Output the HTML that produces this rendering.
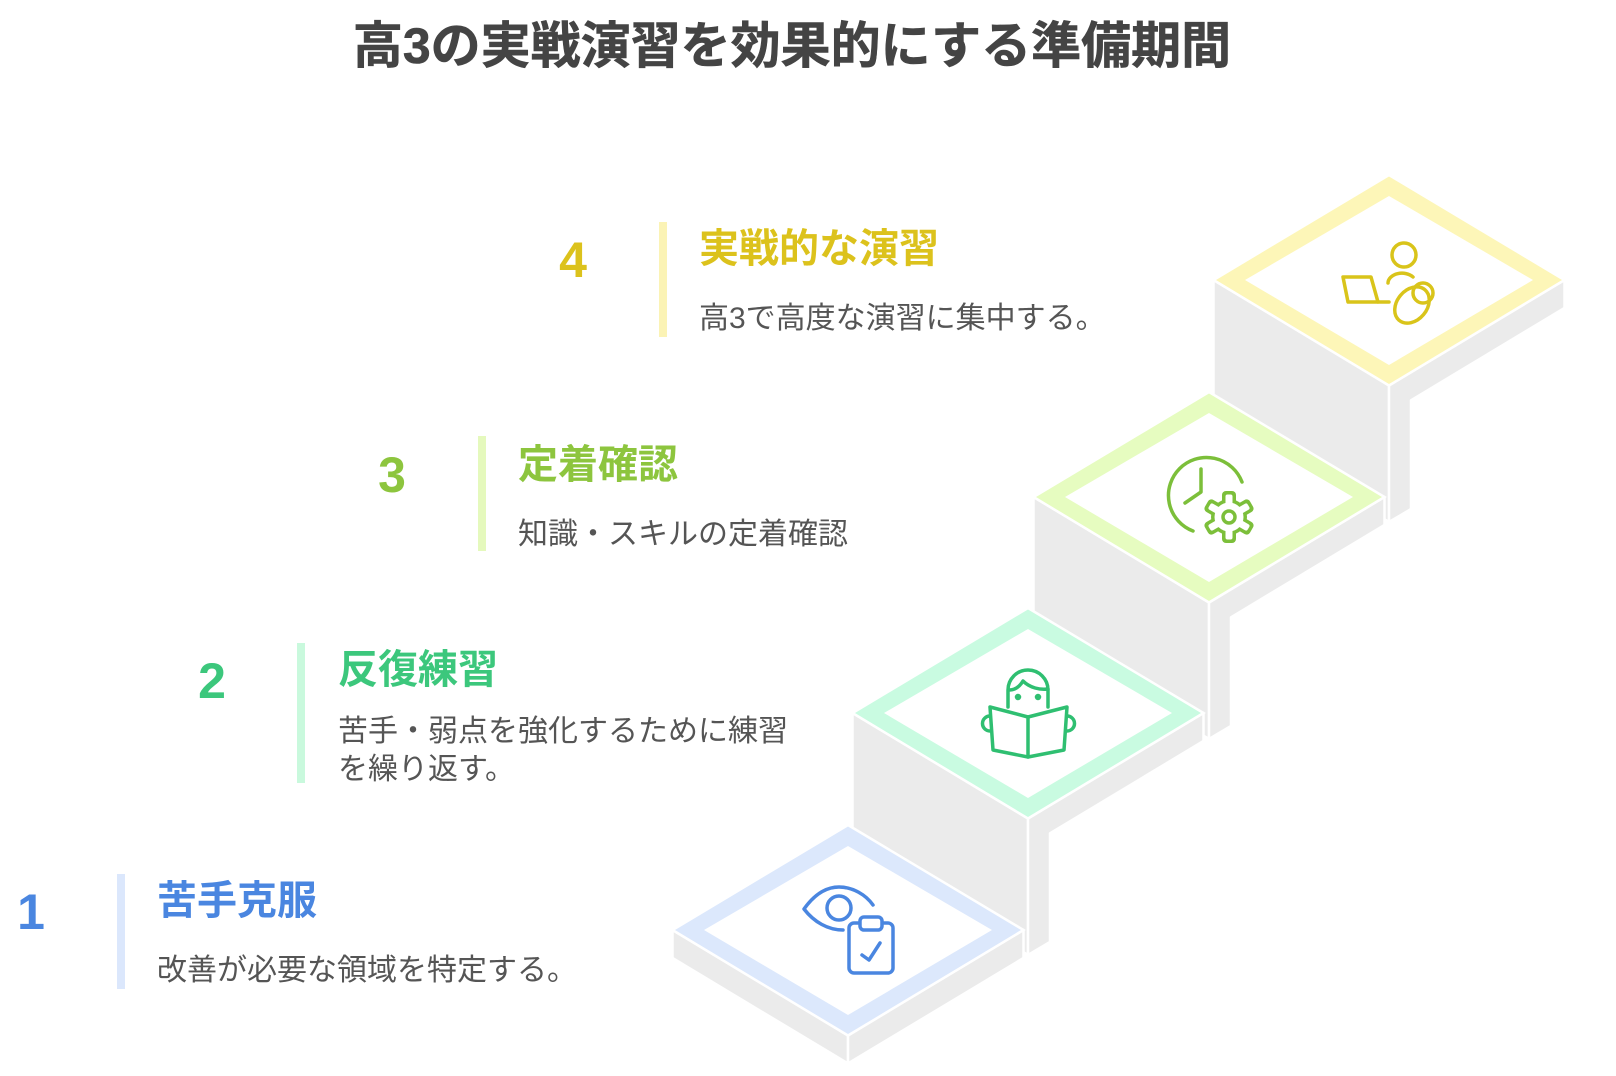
<!DOCTYPE html>
<html><head><meta charset="utf-8"><style>
html,body{margin:0;padding:0;background:#fff;}
svg{display:block;}
text{font-family:"Liberation Sans","Noto Sans CJK JP",sans-serif;}
</style></head><body>
<svg width="1616" height="1076" viewBox="0 0 1616 1076" xmlns="http://www.w3.org/2000/svg">
<text x="792" y="63" text-anchor="middle" font-size="50" font-weight="bold" fill="#444" stroke="#444" stroke-width="0.6">高3の実戦演習を効果的にする準備期間</text>

<!-- step 4 block cx=1389 cy=280 -->
<g stroke="#fff" stroke-width="2.5" stroke-linejoin="round" fill="#ebebeb">
<polygon points="1213.5,280 1389,385.5 1389,522 1213.5,416.5"/>
<polygon points="1389,385.5 1564.5,280 1564.5,308 1411,400.3 1411,509 1389,522"/>
</g>
<polygon points="1389,175 1564.5,280 1389,385.5 1213.5,280" fill="#fdf6b8" stroke="#fff" stroke-width="2.5"/>
<polygon points="1389,196 1533,280 1389,365 1245,280" fill="#fff"/>

<!-- step 3 block cx=1209 cy=497 -->
<g stroke="#fff" stroke-width="2.5" stroke-linejoin="round" fill="#ebebeb">
<polygon points="1033.5,497 1209,602.5 1209,739 1033.5,633.5"/>
<polygon points="1209,602.5 1384.5,497 1384.5,525 1231,617.3 1231,726 1209,739"/>
</g>
<polygon points="1209,392 1384.5,497 1209,602.5 1033.5,497" fill="#e6fcc0" stroke="#fff" stroke-width="2.5"/>
<polygon points="1209,413 1353,497 1209,582 1065,497" fill="#fff"/>

<!-- step 2 block cx=1028 cy=713 -->
<g stroke="#fff" stroke-width="2.5" stroke-linejoin="round" fill="#ebebeb">
<polygon points="852.5,713 1028,818.5 1028,955 852.5,849.5"/>
<polygon points="1028,818.5 1203.5,713 1203.5,741 1050,833.3 1050,942 1028,955"/>
</g>
<polygon points="1028,608 1203.5,713 1028,818.5 852.5,713" fill="#c9fbe1" stroke="#fff" stroke-width="2.5"/>
<polygon points="1028,629 1172,713 1028,798 884,713" fill="#fff"/>

<!-- step 1 block cx=848 cy=930 -->
<g stroke="#fff" stroke-width="2.5" stroke-linejoin="round" fill="#ebebeb">
<polygon points="672.5,930 848,1035.5 848,1063.5 672.5,958"/>
<polygon points="848,1035.5 1023.5,930 1023.5,958 848,1063.5"/>
</g>
<polygon points="848,825 1023.5,930 848,1035.5 672.5,930" fill="#dce8fc" stroke="#fff" stroke-width="2.5"/>
<polygon points="848,846 992,930 848,1015 704,930" fill="#fff"/>

<!-- icon 1 eye + clipboard -->
<g fill="none" stroke="#4a86e0" stroke-width="3.5" stroke-linecap="round" stroke-linejoin="round">
<path d="M843,930 C828,930 814,922 804,909 C814,895 826,887 839,887 C853,887 866,895 873,905"/>
<circle cx="839" cy="908" r="12"/>
<rect x="849" y="923" width="44" height="50" rx="5"/>
<rect x="860" y="917" width="22" height="13" rx="4" fill="#fff"/>
<path d="M862,955 L869,960 L880,943"/>
</g>

<!-- icon 2 reader -->
<g fill="none" stroke="#2fbf71" stroke-width="3.5" stroke-linecap="round" stroke-linejoin="round">
<path d="M1008,707 L1008,690 A20,20 0 0 1 1048,690 L1048,707"/>
<path d="M1009,690 C1016,690 1020,686 1023,681 C1030,688 1040,690 1048,689"/>
<circle cx="1018" cy="697" r="1.5" fill="#2fbf71"/>
<circle cx="1038" cy="697" r="1.5" fill="#2fbf71"/>
<path d="M990,707 L1028,717 L1067,707 L1064,750 L1028,757 L993,750 Z"/>
<path d="M1028,717 L1028,757"/>
<path d="M990,716 A7,7 0 0 0 990,731"/>
<path d="M1067,716 A7,7 0 0 1 1067,731"/>
</g>

<!-- icon 3 clock + gear -->
<g fill="none" stroke="#7cbf3a" stroke-width="3.5" stroke-linecap="round" stroke-linejoin="round">
<path d="M1193,531 A38,38 0 1 1 1242,482"/>
<path d="M1201,469 L1201,492 L1185,503"/>
</g>
<g transform="translate(1229,517)">
<g fill="#7cbf3a">
<circle r="18"/>
<rect x="-7" y="-26" width="14" height="52" rx="4"/>
<rect x="-7" y="-26" width="14" height="52" rx="4" transform="rotate(60)"/>
<rect x="-7" y="-26" width="14" height="52" rx="4" transform="rotate(120)"/>
</g>
<g fill="#fff">
<circle r="14.5"/>
<rect x="-3.5" y="-22.5" width="7" height="45" rx="2" />
<rect x="-3.5" y="-22.5" width="7" height="45" rx="2" transform="rotate(60)"/>
<rect x="-3.5" y="-22.5" width="7" height="45" rx="2" transform="rotate(120)"/>
</g>
<circle r="6" fill="none" stroke="#7cbf3a" stroke-width="3.5"/>
</g>

<!-- icon 4 person laptop baby -->
<g fill="none" stroke="#d9c41a" stroke-width="3.5" stroke-linecap="round" stroke-linejoin="round">
<circle cx="1404" cy="255" r="12"/>
<path d="M1388,283 A14,10 0 0 1 1413,277"/>
<path d="M1343,277 L1371,277 L1378,302 L1348,302 Z"/>
<path d="M1378,302 L1389,302"/>
<ellipse cx="1412" cy="305" rx="15" ry="20" transform="rotate(40 1412 305)"/>
<circle cx="1423" cy="293" r="10"/>
</g>

<!-- texts -->
<g transform="translate(0,-6)">
<rect x="117" y="880" width="8" height="115" fill="#dbe7fc"/>
<text x="31" y="935" text-anchor="middle" font-size="50" font-weight="bold" fill="#4a86e0">1</text>
<text x="157" y="920" font-size="40" font-weight="bold" fill="#4a86e0">苦手克服</text>
<text x="157" y="986" font-size="30" fill="#555">改善が必要な領域を特定する。</text>

<rect x="297" y="649" width="8" height="140" fill="#c9f9dd"/>
<text x="212" y="704" text-anchor="middle" font-size="50" font-weight="bold" fill="#3cc77c">2</text>
<text x="338" y="689" font-size="40" font-weight="bold" fill="#3cc77c">反復練習</text>
<text x="338" y="747" font-size="30" fill="#555">苦手・弱点を強化するために練習</text>
<text x="338" y="785" font-size="30" fill="#555">を繰り返す。</text>

<rect x="478" y="442" width="8" height="115" fill="#e5f9bd"/>
<text x="392" y="498" text-anchor="middle" font-size="50" font-weight="bold" fill="#8dc53e">3</text>
<text x="518" y="484" font-size="40" font-weight="bold" fill="#8dc53e">定着確認</text>
<text x="518" y="550" font-size="30" fill="#555">知識・スキルの定着確認</text>

<rect x="659" y="228" width="8" height="115" fill="#fbf3b5"/>
<text x="573" y="283" text-anchor="middle" font-size="50" font-weight="bold" fill="#dcc21c">4</text>
<text x="699" y="268" font-size="40" font-weight="bold" fill="#dcc21c">実戦的な演習</text>
<text x="699" y="334" font-size="30" fill="#555">高3で高度な演習に集中する。</text>
</g>
</svg>
</body></html>
